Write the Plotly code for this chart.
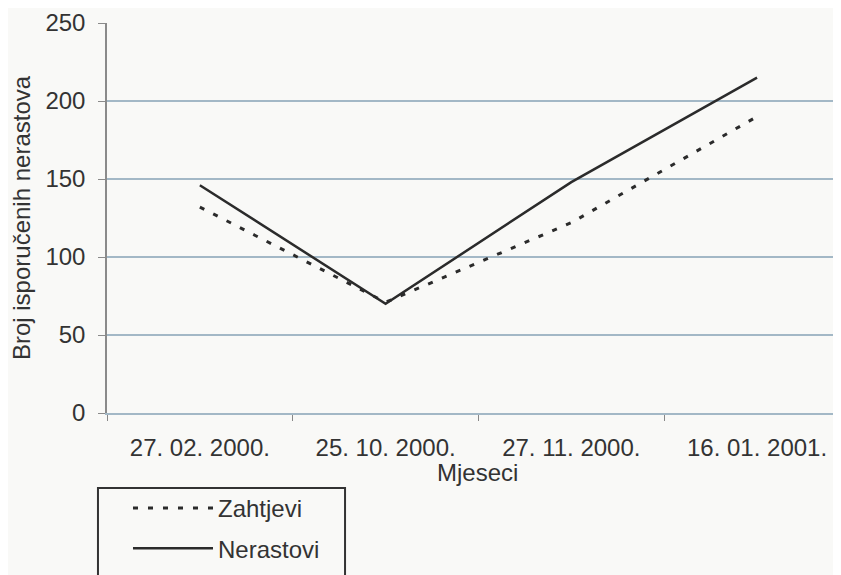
import plotly.graph_objects as go

categories = ["27. 02. 2000.", "25. 10. 2000.", "27. 11. 2000.", "16. 01. 2001."]
zahtjevi = [132, 71, 122, 190]
nerastovi = [146, 70, 148, 215]
y_ticks = [0, 50, 100, 150, 200, 250]

FONT = "Liberation Sans, Arial, sans-serif"
TXT = "#333333"
GRID = "#a3b8c6"

fig = go.Figure()
fig.add_trace(go.Scatter(
    x=categories, y=zahtjevi, name="Zahtjevi", mode="lines",
    line=dict(color="#2b2b2b", width=3, dash="5px,10px"),
    legendgroup="a",
))
fig.add_trace(go.Scatter(
    x=categories, y=nerastovi, name="Nerastovi", mode="lines",
    line=dict(color="#2b2b2b", width=2.5),
    legendgroup="b",
))

fig.update_layout(
    width=833, height=567,
    margin=dict(l=99, r=0, t=15, b=162, autoexpand=False),
    paper_bgcolor="#f9f9f7", plot_bgcolor="#f9f9f7",
    font=dict(family=FONT, size=24, color=TXT),
    showlegend=True,
    legend=dict(
        x=0.0286, y=-0.187, xanchor="left", yanchor="top",
        borderwidth=0, bgcolor="rgba(0,0,0,0)",
        font=dict(family=FONT, size=24, color=TXT),
        tracegroupgap=6, itemwidth=80,
    ),
    shapes=[dict(
        type="rect", xref="paper", yref="paper",
        x0=-0.0123, x1=0.3243, y0=-0.1923, y1=-0.48,
        line=dict(color="#333333", width=2), fillcolor="rgba(0,0,0,0)",
    )],
    annotations=[dict(
        text="Mjeseci", xref="paper", yref="paper", x=0.5054, y=-0.1513,
        xanchor="center", yanchor="middle", showarrow=False,
        font=dict(family=FONT, size=24, color=TXT),
    )],
    xaxis=dict(
        type="category", categoryorder="array", categoryarray=categories,
        range=[-0.5, 3.452], showgrid=False, zeroline=False,
        showline=True, linecolor=GRID, linewidth=1.5,
        ticks="outside", tickson="boundaries", ticklen=6, tickcolor="#888888",
        ticklabelstandoff=12,
        tickfont=dict(family=FONT, size=24, color=TXT),
        automargin=False,
    ),
    yaxis=dict(
        range=[0, 250], tickvals=y_ticks, showgrid=True, gridcolor=GRID, gridwidth=1.5,
        zeroline=False, showline=True, linecolor="#8a8a8a", linewidth=1.5,
        ticks="outside", ticklen=7, tickcolor="#8a8a8a", ticklabelstandoff=8,
        tickfont=dict(family=FONT, size=24, color=TXT),
        title=dict(text="Broj isporučenih nerastova", font=dict(family=FONT, size=24, color=TXT), standoff=16),
        automargin=False,
    ),
)

fig.write_html("out.html")
